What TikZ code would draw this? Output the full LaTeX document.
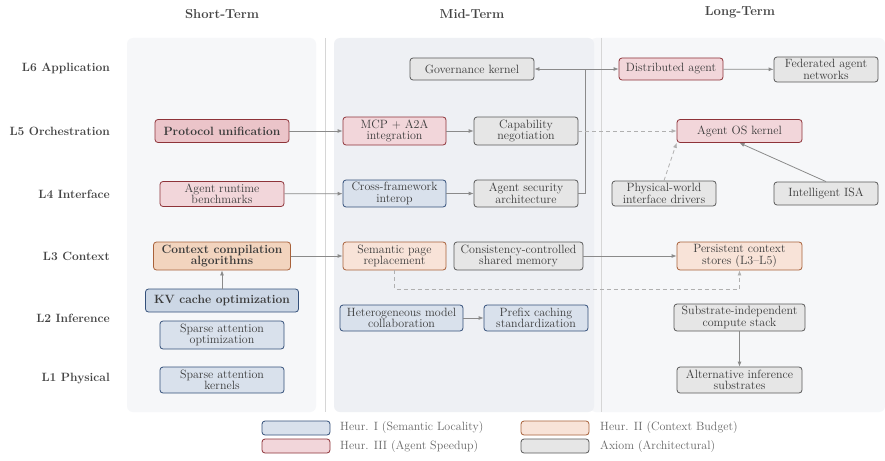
\documentclass[tikz,border=0pt]{standalone}
\usetikzlibrary{arrows.meta}
\definecolor{txt}{HTML}{3A3A3A}
\definecolor{lbl}{HTML}{444444}
\definecolor{legtxt}{HTML}{666666}
\definecolor{redF}{HTML}{F2D6DA}
\definecolor{redFB}{HTML}{EBC4C9}
\definecolor{redD}{HTML}{8E3339}
\definecolor{oraF}{HTML}{F8E3D8}
\definecolor{oraFB}{HTML}{F2D4BE}
\definecolor{oraD}{HTML}{A8613A}
\definecolor{bluF}{HTML}{D9E1EC}
\definecolor{bluFB}{HTML}{CCD7E5}
\definecolor{bluD}{HTML}{34507A}
\definecolor{graF}{HTML}{E6E6E6}
\definecolor{graD}{HTML}{5A5A5A}
\definecolor{panA}{HTML}{F6F7F9}
\definecolor{panB}{HTML}{EEF0F4}
\definecolor{sepC}{HTML}{D6D6D6}
\definecolor{arrC}{HTML}{8A8A8A}
\definecolor{dashC}{HTML}{B0B0B0}
\newcommand{\nfont}{\fontsize{12}{11.5}\selectfont}
\tikzset{
  box/.style={draw, rounded corners=3pt, line width=0.8pt, align=center,
    font=\nfont, text=txt, inner sep=1pt},
  bred/.style={box, fill=redF, draw=redD},
  bora/.style={box, fill=oraF, draw=oraD},
  bblu/.style={box, fill=bluF, draw=bluD},
  bgra/.style={box, fill=graF, draw=graD},
  bolded/.style={font=\nfont\bfseries},
  sz/.style 2 args={minimum width=#1, minimum height=#2},
  rowlbl/.style={anchor=east, font=\fontsize{12}{14}\selectfont\bfseries, text=lbl, inner sep=0pt},
  colhdr/.style={font=\fontsize{13}{15}\selectfont\bfseries, text=lbl},
  conn/.style={draw=arrC, line width=0.8pt, -{Latex[length=5pt,width=4pt]}},
  dconn/.style={draw=dashC, line width=0.8pt, dash pattern=on 4pt off 3pt, -{Latex[length=5pt,width=4pt]}},
  legbox/.style={draw, rounded corners=3pt, line width=0.8pt, minimum width=68pt, minimum height=14pt, inner sep=0pt},
  legtext/.style={anchor=west, font=\fontsize{12}{13}\selectfont, text=legtxt, inner sep=0pt},
}
\begin{document}
\begin{tikzpicture}[x=1pt,y=-1pt]
\useasboundingbox (0,0) rectangle (885,460);
\fill[white] (0,0) rectangle (885,460);
% panels
\fill[panA, rounded corners=6pt] (127,38) rectangle (316,412);
\fill[panA, rounded corners=6pt] (590,38) rectangle (885,412);
\fill[panB, rounded corners=6pt] (334,38) rectangle (594,412);
\draw[sepC, line width=1pt] (325,38) -- (325,412);
\draw[sepC, line width=1pt] (601,38) -- (601,412);
% headers
\node[colhdr] (hs) at (222,14) {Short-Term};
\node[colhdr] (hm) at (472,14) {Mid-Term};
\node[colhdr] (hl) at (740,12) {Long-Term};
% row labels
\node[rowlbl] (r6) at (110,68) {L6 Application};
\node[rowlbl] (r5) at (110,131) {L5 Orchestration};
\node[rowlbl] (r4) at (110,194) {L4 Interface};
\node[rowlbl] (r3) at (110,256) {L3 Context};
\node[rowlbl] (r2) at (110,318) {L2 Inference};
\node[rowlbl] (r1) at (110,379) {L1 Physical};
% short-term
\node[bred, fill=redFB, bolded, sz={134pt}{23pt}] (pu) at (222,131) {Protocol unification};
\node[bred, sz={124pt}{25pt}] (arb) at (222,194) {Agent runtime\\benchmarks};
\node[bora, fill=oraFB, bolded, sz={137pt}{28pt}] (cca) at (222,256) {Context compilation\\algorithms};
\node[bblu, fill=bluFB, bolded, sz={153pt}{23pt}] (kv) at (222,300.5) {KV cache optimization};
\node[bblu, sz={124pt}{28pt}] (sao) at (222,335) {Sparse attention\\optimization};
\node[bblu, sz={124pt}{26pt}] (sak) at (222,380) {Sparse attention\\kernels};
% mid-term
\node[bgra, sz={124pt}{22pt}] (gov) at (472,69) {Governance kernel};
\node[bred, sz={103pt}{28pt}] (mcp) at (394.5,131) {MCP + A2A\\integration};
\node[bgra, sz={104pt}{28pt}] (cap) at (526,131) {Capability\\negotiation};
\node[bblu, sz={103pt}{27pt}] (cfi) at (394.5,193.5) {Cross-framework\\interop};
\node[bgra, sz={104pt}{27pt}] (asa) at (526,193.5) {Agent security\\architecture};
\node[bora, sz={103pt}{28pt}] (spr) at (394.5,256) {Semantic page\\replacement};
\node[bgra, sz={129pt}{28pt}] (ccm) at (518.5,256) {Consistency-controlled\\shared memory};
\node[bblu, sz={123pt}{26pt}] (hmc) at (401.5,318) {Heterogeneous model\\collaboration};
\node[bblu, sz={104pt}{26pt}] (pcs) at (536,318) {Prefix caching\\standardization};
% long-term
\node[bred, sz={104pt}{22pt}] (dag) at (671,69) {Distributed agent};
\node[bgra, sz={104pt}{25pt}] (fan) at (826,69.5) {Federated agent\\networks};
\node[bred, sz={125pt}{23pt}] (aos) at (739.5,131) {Agent OS kernel};
\node[bgra, sz={104pt}{25pt}] (pwi) at (664,193.5) {Physical-world\\interface drivers};
\node[bgra, sz={104pt}{23pt}] (isa) at (826,193.5) {Intelligent ISA};
\node[bora, sz={125pt}{28pt}] (pcst) at (739.5,256) {Persistent context\\stores (L3--L5)};
\node[bgra, sz={131pt}{27pt}] (sic) at (739.5,317.5) {Substrate-independent\\compute stack};
\node[bgra, sz={125pt}{26pt}] (ais) at (739.5,380) {Alternative inference\\substrates};
% connectors
\draw[conn] (pu) -- (mcp);
\draw[conn] (arb) -- (cfi);
\draw[conn] (cca) -- (spr);
\draw[conn] (kv) -- (cca);
\draw[conn] (mcp) -- (cap);
\draw[conn] (cfi) -- (asa);
\coordinate (jn) at (585,69);
\draw[draw=arrC, line width=0.8pt] (asa.east) -- (585,193.5) -- (jn);
\draw[conn] (jn) -- (gov.east);
\draw[conn] (jn) -- (dag.west);
\draw[conn] (dag) -- (fan);
\draw[dconn] (cap) -- (aos);
\draw[dconn] (pwi.north) -- (aos.south west);
\draw[conn] (isa.north) -- (aos.south);
\draw[conn] (ccm) -- (pcst);
\draw[dconn] (spr.south) -- (394.5,289) -- (739.5,289) -- (pcst.south);
\draw[conn] (hmc) -- (pcs);
\draw[conn] (sic) -- (ais);
% legend
\node[legbox, fill=bluF, draw=bluD] (lb1) at (296,428) {};
\node[legtext] (lt1) at (340,428) {Heur. I (Semantic Locality)};
\node[legbox, fill=redF, draw=redD] (lb3) at (296,446) {};
\node[legtext] (lt3) at (340,446) {Heur. III (Agent Speedup)};
\node[legbox, fill=oraF, draw=oraD] (lb2) at (555,428) {};
\node[legtext] (lt2) at (600,428) {Heur. II (Context Budget)};
\node[legbox, fill=graF, draw=graD] (lb4) at (555,446) {};
\node[legtext] (lt4) at (600,446) {Axiom (Architectural)};
\end{tikzpicture}
\end{document}
